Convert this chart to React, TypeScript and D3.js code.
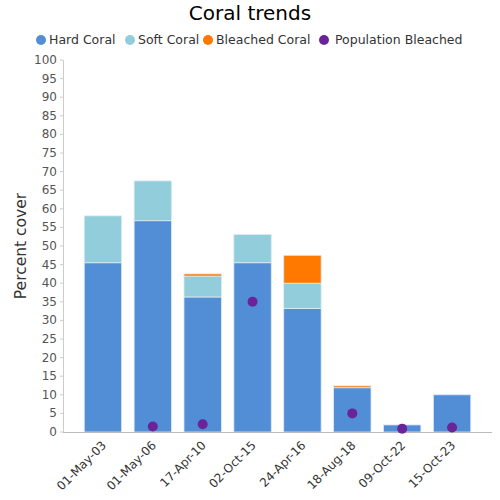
import React from "react";
import * as d3 from "d3";

const categories = ["01-May-03", "01-May-06", "17-Apr-10", "02-Oct-15", "24-Apr-16", "18-Aug-18", "09-Oct-22", "15-Oct-23"];
const hardCoral = [45.5, 56.8, 36.3, 45.5, 33.2, 11.9, 1.9, 10.0];
const softCoral = [12.6, 10.7, 5.6, 7.6, 6.8, 0, 0, 0];
const bleachedCoral = [0, 0, 0.6, 0, 7.5, 0.5, 0, 0];
const populationBleached: (number | null)[] = [null, 1.5, 2.1, 35.0, null, 5.0, 0.9, 1.2];
const yTicks = d3.range(0, 101, 5);

const colors = { hard: "#528ed6", soft: "#92cddb", bleached: "#ff7800", pop: "#6a2399" };
const font = "DejaVu Sans, Verdana, sans-serif";

export default function App() {
  const W = 500, H = 500;
  const left = 63, right = 492, top = 60, bottom = 432;
  const x = d3.scaleBand<string>().domain(categories).range([78, 477]).paddingInner(0.25).paddingOuter(0.125);
  const y = d3.scaleLinear().domain([0, 100]).range([bottom, top]);
  const stacked = categories.map((c, i) => {
    const h = hardCoral[i], s = softCoral[i], b = bleachedCoral[i];
    return [
      { key: "hard", y0: 0, y1: h },
      { key: "soft", y0: h, y1: h + s },
      { key: "bleached", y0: h + s, y1: h + s + b },
    ].filter((d) => d.y1 > d.y0);
  });
  const legend = [
    { label: "Hard Coral", color: colors.hard, cx: 41 },
    { label: "Soft Coral", color: colors.soft, cx: 130 },
    { label: "Bleached Coral", color: colors.bleached, cx: 208 },
    { label: "Population Bleached", color: colors.pop, cx: 324 },
  ];
  return (
    <svg width={W} height={H} style={{ position: "absolute", left: 0, top: 0, fontFamily: font }}>
      <rect width={W} height={H} fill="#fff" />
      <text x={250} y={20} textAnchor="middle" fontSize={20} fill="#000">Coral trends</text>
      {legend.map((l, i) => (
        <g key={l.label}>
          <circle cx={l.cx} cy={40} r={5} fill={l.color} />
          <text x={l.cx + (i === 3 ? 11 : 8)} y={44} fontSize={12.5} fill="#333">{l.label}</text>
        </g>
      ))}
      {yTicks.map((t) => (
        <g key={t}>
          <text x={57} y={y(t) + 4} textAnchor="end" fontSize={12} fill="#555">{t}</text>
          <line x1={left - 3} x2={left} y1={y(t)} y2={y(t)} stroke="#ccc" />
        </g>
      ))}
      <line x1={left + 0.5} x2={left + 0.5} y1={top} y2={bottom} stroke="#ccc" />
      <text transform={`translate(26,${(top + bottom) / 2}) rotate(-90)`} textAnchor="middle" fontSize={15.5} fill="#333">Percent cover</text>
      {stacked.map((segs, i) =>
        segs.map((s) => (
          <rect key={i + s.key} x={x(categories[i])!} width={x.bandwidth()} y={y(s.y1)} height={y(s.y0) - y(s.y1)}
            fill={(colors as any)[s.key]} stroke="#dceaf7" strokeWidth={0.8} />
        ))
      )}
      <line x1={left} x2={right} y1={bottom + 0.5} y2={bottom + 0.5} stroke="#bbb" />
      {populationBleached.map((v, i) =>
        v == null ? null : (
          <circle key={"p" + i} cx={x(categories[i])! + x.bandwidth() / 2} cy={y(v)} r={5} fill={colors.pop} />
        )
      )}
      {categories.map((c) => {
        const cx = x(c)! + x.bandwidth() / 2;
        return (
          <text key={c} transform={`translate(${cx + 4},${bottom + 14}) rotate(-45)`} textAnchor="end" fontSize={12} fill="#333">{c}</text>
        );
      })}
    </svg>
  );
}
